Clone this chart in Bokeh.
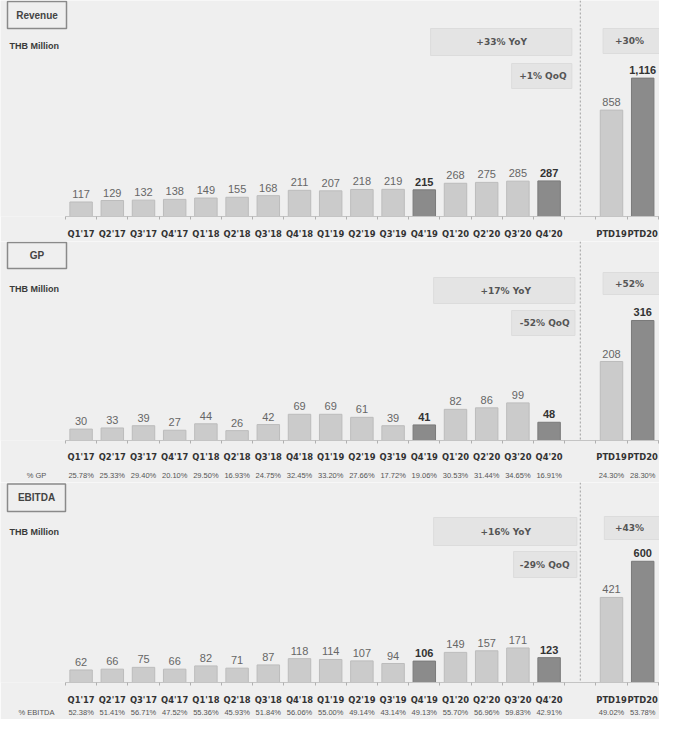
from bokeh.plotting import figure
from bokeh.models import (ColumnDataSource, Range1d, FixedTicker, LinearAxis,
                          Span, Label, BoxAnnotation)
from bokeh.layouts import column
from bokeh.core.properties import value
from bokeh.embed import file_html
from bokeh.resources import INLINE

# ---------------- data ----------------
quarters = ["Q1'17", "Q2'17", "Q3'17", "Q4'17", "Q1'18", "Q2'18", "Q3'18", "Q4'18",
            "Q1'19", "Q2'19", "Q3'19", "Q4'19", "Q1'20", "Q2'20", "Q3'20", "Q4'20"]
ptd_labels = ["PTD19", "PTD20"]
highlight = ["Q4'19", "Q4'20", "PTD20"]

revenue_q = [117, 129, 132, 138, 149, 155, 168, 211, 207, 218, 219, 215, 268, 275, 285, 287]
revenue_ptd = [858, 1116]
revenue_growth = ["+33% YoY", "+1% QoQ", "+30%"]

gp_q = [30, 33, 39, 27, 44, 26, 42, 69, 69, 61, 39, 41, 82, 86, 99, 48]
gp_ptd = [208, 316]
gp_margin_q = ["25.78%", "25.33%", "29.40%", "20.10%", "29.50%", "16.93%", "24.75%", "32.45%",
               "33.20%", "27.66%", "17.72%", "19.06%", "30.53%", "31.44%", "34.65%", "16.91%"]
gp_margin_ptd = ["24.30%", "28.30%"]
gp_growth = ["+17% YoY", "-52% QoQ", "+52%"]

ebitda_q = [62, 66, 75, 66, 82, 71, 87, 118, 114, 107, 94, 106, 149, 157, 171, 123]
ebitda_ptd = [421, 600]
ebitda_margin_q = ["52.38%", "51.41%", "56.71%", "47.52%", "55.36%", "45.93%", "51.84%", "56.06%",
                   "55.00%", "49.14%", "43.14%", "49.13%", "55.70%", "56.96%", "59.83%", "42.91%"]
ebitda_margin_ptd = ["49.02%", "53.78%"]
ebitda_growth = ["+16% YoY", "-29% QoQ", "+43%"]

# ---------------- style ----------------
BG = "#efefef"
W = 659
SLOT = 31.2
LEFT_PX = 65
X_START = -0.5 - LEFT_PX / SLOT
X_END = X_START + W / SLOT
SANS = "Liberation Sans"
DEJA = "DejaVu Sans"

categories = quarters + ptd_labels
positions = list(range(len(quarters))) + [len(quarters) + 1 + i for i in range(len(ptd_labels))]
gap_pos = len(quarters)
boundaries = [i - 0.5 for i in range(len(quarters) + len(ptd_labels) + 2)]
margin_label_pos = X_START + 36 / SLOT   # where the "% GP" caption sits


def panel(name, vals_q, vals_ptd, growth, y_end, frame_h, below_h, geo,
          margins=None, margin_name=None, pct_standoff=6, label_standoff=9):
    p = figure(frame_width=W, frame_height=frame_h,
               x_range=Range1d(X_START, X_END), y_range=Range1d(0, y_end),
               output_backend="svg", toolbar_location=None,
               min_border_left=0, min_border_right=0, min_border_top=0,
               min_border_bottom=below_h, y_axis_location=None,
               background_fill_color=BG, border_fill_color=BG, outline_line_color=None)
    p.xgrid.visible = False
    p.ygrid.visible = False

    vals = list(vals_q) + list(vals_ptd)
    hl = [c in highlight for c in categories]
    src = ColumnDataSource(dict(
        x=positions, top=vals,
        fill=["#8b8b8b" if h else "#cbcbcb" for h in hl],
        line=["#7a7a7a" if h else "#bcbcbc" for h in hl],
        label=[f"{v:,}" for v in vals],
        style=["bold" if h else "normal" for h in hl],
        tcolor=["#333333" if h else "#666666" for h in hl],
    ))

    p.add_layout(Span(location=gap_pos, dimension="height", line_color="#a0a0a0",
                      line_dash="2 2", line_width=1))

    p.vbar(x="x", top="top", width=0.72, fill_color="fill", line_color="line",
           line_width=1, source=src)
    p.text(x="x", y="top", text="label", source=src, text_font=value(SANS),
           text_font_size="11px", text_font_style="style", text_color="tcolor",
           text_align="center", text_baseline="bottom", y_offset=-4)

    ax = p.xaxis[0]
    ax.ticker = FixedTicker(ticks=positions, minor_ticks=boundaries)
    ax.bounds = (-0.5, X_END + 1)
    ax.major_label_overrides = {pos: c for pos, c in zip(positions, categories)}
    ax.axis_line_color = "#c4c4c4"
    ax.major_tick_line_color = None
    ax.major_tick_out = 0
    ax.major_tick_in = 0
    ax.minor_tick_in = 0
    ax.minor_tick_out = 3
    ax.minor_tick_line_color = "#b0b0b0"
    ax.axis_label_standoff = 0
    ax.major_label_standoff = label_standoff
    ax.major_label_text_font = DEJA
    ax.major_label_text_font_style = "bold"
    ax.major_label_text_font_size = "8.4px"
    ax.major_label_text_color = "#333333"

    if margins is not None:
        ticks2 = [margin_label_pos] + positions
        texts2 = [margin_name] + list(margins)
        ax2 = LinearAxis(ticker=FixedTicker(ticks=ticks2),
                         major_label_overrides={t: m for t, m in zip(ticks2, texts2)},
                         axis_line_color=None, major_tick_line_color=None,
                         major_tick_out=0, major_tick_in=0,
                         minor_tick_line_color=None, major_label_standoff=pct_standoff,
                         axis_label_standoff=0,
                         major_label_text_font=SANS, major_label_text_font_size="7.5px",
                         major_label_text_color="#555555")
        p.add_layout(ax2, "below")

    # title box
    tb = geo["title"]
    p.add_layout(BoxAnnotation(left=tb[0], right=tb[1], bottom=tb[2], top=tb[3],
                               left_units="screen", right_units="screen",
                               bottom_units="screen", top_units="screen",
                               fill_color=None, line_color="#8a8a8a", line_alpha=1,
                               line_width=1.5))
    p.add_layout(Label(x=(tb[0] + tb[1]) / 2, y=(tb[2] + tb[3]) / 2, x_units="screen",
                       y_units="screen", text=name, text_font=SANS, text_font_style="bold",
                       text_font_size="10px", text_color="#444444", text_align="center",
                       text_baseline="middle"))
    p.add_layout(Label(x=9, y=geo["thb"], x_units="screen", y_units="screen",
                       text="THB Million", text_font=SANS, text_font_style="bold",
                       text_font_size="9px", text_color="#3a3a3a", text_align="left",
                       text_baseline="middle"))

    # growth boxes
    for key, txt in zip(["yoy", "qoq", "ptd"], growth):
        l, r, b, t, tx, ty = geo[key]
        p.add_layout(BoxAnnotation(left=l, right=r, bottom=b, top=t,
                                   left_units="data", right_units="data",
                                   bottom_units="screen", top_units="screen",
                                   fill_color="#e4e4e4", fill_alpha=1,
                                   line_color="#dcdcdc", line_alpha=1, line_width=1))
        p.add_layout(Label(x=tx, y=ty, x_units="data", y_units="screen", text=txt,
                           text_font=DEJA, text_font_style="bold", text_font_size="9px",
                           text_color="#555555", text_align="center",
                           text_baseline="middle"))
    return p


geo1 = dict(title=(7, 66, 188, 215), thb=171,
            yoy=(11.20, 15.73, 161, 188, 13.48, 174.5),
            qoq=(13.80, 15.73, 128, 153, 14.80, 140.5),
            ptd=(16.73, None, 163, 188, 17.58, 175.5))
geo2 = dict(title=(7, 66, 172, 198), thb=152,
            yoy=(11.30, 15.83, 137, 163, 13.61, 150),
            qoq=(13.80, 15.83, 105, 130, 14.86, 117.5),
            ptd=(16.73, None, 146, 168, 17.58, 157))
geo3 = dict(title=(7, 65, 171, 198.5), thb=151,
            yoy=(11.30, 15.89, 137, 165, 13.61, 151),
            qoq=(13.86, 15.89, 105, 131, 14.86, 118),
            ptd=(16.77, None, 143, 166, 17.58, 154.5))

p1 = panel("Revenue", revenue_q, revenue_ptd, revenue_growth, 1742, 216, 25, geo1,
           label_standoff=9)
p2 = panel("GP", gp_q, gp_ptd, gp_growth, 524, 199, 42, geo2,
           margins=gp_margin_q + gp_margin_ptd, margin_name="% GP", pct_standoff=6,
           label_standoff=8)
p3 = panel("EBITDA", ebitda_q, ebitda_ptd, ebitda_growth, 990, 200, 37, geo3,
           margins=ebitda_margin_q + ebitda_margin_ptd, margin_name="% EBITDA",
           pct_standoff=0, label_standoff=9)

layout = column(p1, p2, p3, spacing=0)
open("out.html", "w").write(file_html(layout, INLINE))
